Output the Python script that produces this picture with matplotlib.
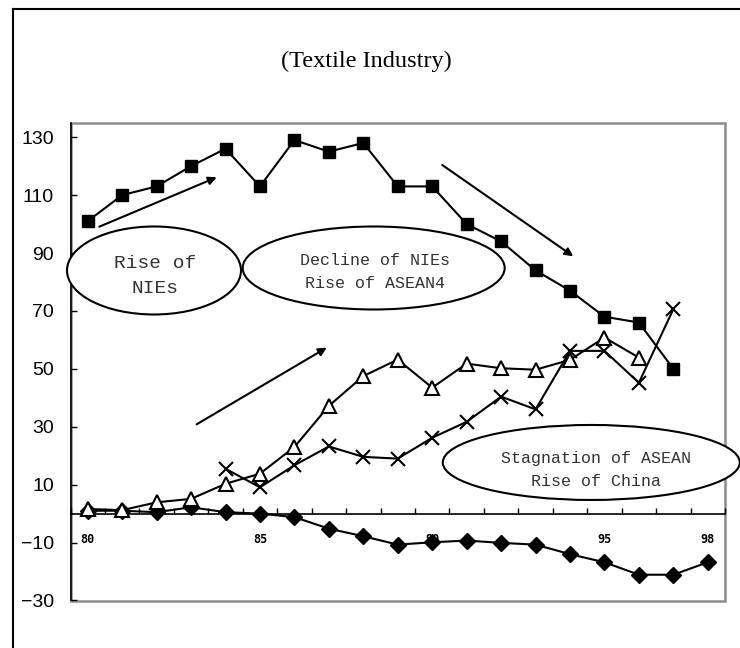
import matplotlib
matplotlib.use("Agg")
import matplotlib.pyplot as plt
from matplotlib.patches import Ellipse, Rectangle
from matplotlib.lines import Line2D

# values
years = list(range(80, 99))
year_labels = ['80', '85', '90', '95', '98']
label_years = [80, 85, 90, 95, 98]

nies = [101, 110, 113, 120, 126, 113, 129, 125, 128, 113, 113, 100, 94, 84, 77, 68, 66, 50]
nies_years = years[:18]
asean4 = [1.6, 1.2, 3.9, 5.1, 10.3, 13.8, 23, 37.2, 47.5, 53.2, 43.5, 51.8, 50.2, 49.7, 53.1, 60.8, 53.9]
asean4_years = years[:17]
china = [15.5, 9.1, 16.7, 23.2, 19.6, 19, 26.2, 31.7, 40.4, 36, 56.2, 56.2, 45.2, 70.6]
china_years = years[4:18]
japan = [1, 1, 0.5, 2.2, 0.5, 0, -1.2, -5.2, -7.8, -10.7, -9.9, -9.3, -10.1, -10.7, -14, -16.8, -21.1, -21.1, -16.8]

W, H = 740, 648
fig = plt.figure(figsize=(7.4, 6.48), dpi=100)
ax = fig.add_axes([70.5 / W, 1 - 600.5 / H, 654.5 / W, 477.8 / H])
ax.set_xlim(79.5, 98.5)
ax.set_ylim(-30, 135)

lw = 1.5
ax.plot(nies_years, nies, color='black', lw=lw, marker='s', ms=8.5, zorder=5)
ax.plot(asean4_years, asean4, color='black', lw=lw, marker='^', ms=10,
        mfc='white', mec='black', mew=1.5, zorder=6)
ax.plot(china_years, china, color='black', lw=lw, marker='x', ms=10, mew=1.5, zorder=5)
ax.plot(years, japan, color='black', lw=lw, marker='D', ms=8, zorder=5)

# axes styling: black y axis, x axis at zero, grey plot-area border
for s in ['top', 'right']:
    ax.spines[s].set_visible(False)
ax.spines['left'].set_color('black')
ax.spines['left'].set_linewidth(1.2)
ax.spines['bottom'].set_position(('data', 0))
ax.spines['bottom'].set_color('black')
ax.spines['bottom'].set_linewidth(1.2)
ax.add_patch(Rectangle((0, 0), 1, 1, transform=ax.transAxes, fill=False,
                       edgecolor='#8c8c8c', lw=1.8, zorder=0, clip_on=False))

ax.set_yticks([130, 110, 90, 70, 50, 30, 10, -10, -30])
ax.set_yticklabels(['130', '110', '90', '70', '50', '30', '10', '\u221210', '\u221230'],
                   fontfamily='Liberation Sans', fontsize=14)
ax.tick_params(axis='y', direction='in', length=4, width=1, pad=12)

ax.set_xticks([y + 0.5 for y in range(79, 99)])
ax.set_xticklabels([])
ax.tick_params(axis='x', which='major', direction='in', length=4, width=1)
ax.set_xticks(label_years, minor=True)
ax.set_xticklabels(year_labels, minor=True, fontfamily='DejaVu Sans Mono',
                   fontsize=8.5, fontweight='bold')
ax.tick_params(axis='x', which='minor', length=0, pad=14)

# ellipses and notes (positions in pixels converted to data)
def px(x, y):
    return 79.5 + (x - 70.5) / 34.45, 135 - (y - 122.7) / 2.896

notes = [
    ((154, 270.5), 174, 88, 'Rise of\nNIEs', 14, (155.5, 276)),
    ((373.7, 268), 262, 83, 'Decline of NIEs\nRise of ASEAN4', 12, (375, 272)),
    ((591.3, 462.5), 297, 75, 'Stagnation of ASEAN\nRise of China', 12, (595.7, 470)),
]
for (cx, cy), w, h, txt, fs, (tx, ty) in notes:
    e = Ellipse(px(cx, cy), w / 34.45, h / 2.896, facecolor='white',
                edgecolor='black', lw=1.5, zorder=8, clip_on=False)
    ax.add_patch(e)
    ax.text(*px(tx, ty), txt, ha='center', va='center', fontsize=fs,
            fontfamily='Liberation Mono', color='#333333', zorder=9,
            linespacing=1.6)

arrows = [((99.3, 226.7), (216.7, 177.3)),
          ((442.3, 165), (573.3, 256.3)),
          ((196.7, 424.3), (326.7, 347.7))]
for start, end in arrows:
    ax.annotate('', xy=px(*end), xytext=px(*start),
                arrowprops=dict(arrowstyle='-|>', color='black', lw=1.5,
                                mutation_scale=12, shrinkA=0, shrinkB=0),
                zorder=7)

fig.text(366.7 / W, 1 - 61.7 / H, '(Textile Industry)', ha='center', va='center',
         fontfamily='Liberation Serif', fontsize=17.5)

# outer frame (left and top edges)
fig.add_artist(Line2D([12.7 / W, 12.7 / W], [0, 1 - 9 / H], color='black',
                      lw=1.5, transform=fig.transFigure))
fig.add_artist(Line2D([12.7 / W, 1], [1 - 9 / H, 1 - 9 / H], color='black',
                      lw=1.5, transform=fig.transFigure))

fig.savefig('out.png', dpi=100)
